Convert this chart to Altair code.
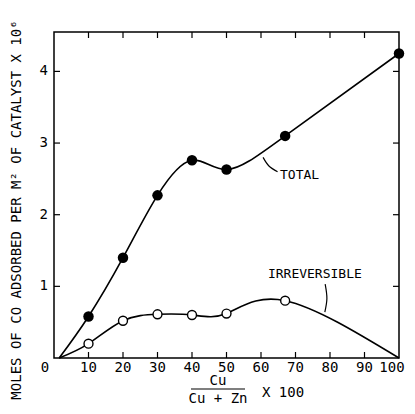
import altair as alt
import pandas as pd

# Data
total_x = [1.5, 10, 20, 30, 40, 50, 67, 100]
total_y = [0.0, 0.58, 1.40, 2.27, 2.76, 2.63, 3.10, 4.25]
total_marker = [False, True, True, True, True, True, True, True]

irr_x = [1.5, 10, 20, 30, 40, 50, 67, 100]
irr_y = [0.0, 0.20, 0.52, 0.61, 0.60, 0.62, 0.80, 0.0]
irr_marker = [False, True, True, True, True, True, True, False]

x_ticks = [0, 10, 20, 30, 40, 50, 60, 70, 80, 90, 100]
y_ticks = [1, 2, 3, 4]

FONT = "DejaVu Sans Mono"
W, H = 345, 326
XMAX, YMAX = 100, 4.55

tot = pd.DataFrame({"x": total_x, "y": total_y, "m": total_marker})
irr = pd.DataFrame({"x": irr_x, "y": irr_y, "m": irr_marker})

xs = alt.Scale(domain=[0, XMAX], nice=False)
ys = alt.Scale(domain=[0, YMAX], nice=False)

X = lambda f="x": alt.X(f"{f}:Q", scale=xs, axis=None)
Y = lambda f="y": alt.Y(f"{f}:Q", scale=ys, axis=None)

# tick labels drawn as text through the scales
xl = pd.DataFrame({"x": x_ticks[1:-1], "t": [str(v) for v in x_ticks[1:-1]]})
xlabels = alt.Chart(xl).mark_text(font=FONT, fontSize=14, color="black",
                                  align="center", baseline="top").encode(
    x=X(), y=alt.value(H + 3), text="t:N")
x0 = pd.DataFrame({"x": [x_ticks[0]], "t": [str(x_ticks[0])]})
xlabel0 = alt.Chart(x0).mark_text(font=FONT, fontSize=14, color="black",
                                  align="center", baseline="top", dx=-9).encode(
    x=X(), y=alt.value(H + 3), text="t:N")
xN = pd.DataFrame({"x": [x_ticks[-1]], "t": [str(x_ticks[-1])]})
xlabelN = alt.Chart(xN).mark_text(font=FONT, fontSize=14, color="black",
                                  align="center", baseline="top", dx=-7).encode(
    x=X(), y=alt.value(H + 3), text="t:N")
yl = pd.DataFrame({"y": y_ticks, "t": [str(v) for v in y_ticks]})
ylabels = alt.Chart(yl).mark_text(font=FONT, fontSize=14, color="black",
                                  align="right", baseline="middle").encode(
    y=Y(), x=alt.value(-6), text="t:N")

ytitle = alt.Chart(pd.DataFrame({"t": ["MOLES OF CO ADSORBED PER M² OF CATALYST X 10⁶"]})).mark_text(
    font=FONT, fontSize=14, color="black", angle=270, align="center", baseline="middle"
).encode(x=alt.value(-37), y=alt.value(178), text="t:N")

# frame
frame = alt.Chart(pd.DataFrame({"a": [0]})).mark_rect(
    fill=None, stroke="black", strokeWidth=1.5
).encode(x=alt.value(0), x2=alt.value(W), y=alt.value(0), y2=alt.value(H))

# inward ticks
xt = pd.DataFrame({"x": x_ticks[1:-1]})
bottom_ticks = alt.Chart(xt).mark_rule(color="black", strokeWidth=1.2).encode(
    x=X(), y=alt.value(H), y2=alt.value(H - 6))
top_ticks = alt.Chart(xt).mark_rule(color="black", strokeWidth=1.2).encode(
    x=X(), y=alt.value(0), y2=alt.value(6))
yt = pd.DataFrame({"y": y_ticks})
left_ticks = alt.Chart(yt).mark_rule(color="black", strokeWidth=1.2).encode(
    y=Y(), x=alt.value(0), x2=alt.value(6))
right_ticks = alt.Chart(yt).mark_rule(color="black", strokeWidth=1.2).encode(
    y=Y(), x=alt.value(W), x2=alt.value(W - 6))

tot_line = alt.Chart(tot).mark_line(color="black", strokeWidth=1.6, interpolate="natural").encode(
    x=X(), y=Y())
irr_line = alt.Chart(irr).mark_line(color="black", strokeWidth=1.6, interpolate="natural").encode(
    x=X(), y=Y())

tot_pts = alt.Chart(tot[tot.m]).mark_point(
    shape="circle", filled=True, color="black", size=110, opacity=1).encode(x=X(), y=Y())
irr_pts = alt.Chart(irr[irr.m]).mark_point(
    shape="circle", filled=True, fill="white", stroke="black", strokeWidth=1.4,
    size=80, opacity=1).encode(x=X(), y=Y())

# labels
lab = pd.DataFrame({"x": [65.5, 62.0], "y": [2.56, 1.17], "t": ["TOTAL", "IRREVERSIBLE"]})
labels = alt.Chart(lab).mark_text(font=FONT, fontSize=13, align="left", baseline="middle",
                                  color="black").encode(x=X(), y=Y(), text="t:N")

lead_line = alt.Chart(pd.DataFrame({"x": [60.6, 62.3, 64.8], "y": [2.80, 2.68, 2.60],
                                    "o": [0, 1, 2]})).mark_line(
    color="black", strokeWidth=1.2, interpolate="natural").encode(
    x=X(), y=Y(), order="o:Q")
lead_line2 = alt.Chart(pd.DataFrame({"x": [78.6, 79.1, 78.5], "y": [1.03, 0.83, 0.64],
                                     "o": [0, 1, 2]})).mark_line(
    color="black", strokeWidth=1.2, interpolate="natural").encode(
    x=X(), y=Y(), order="o:Q")

# x-axis title as fraction
frac = alt.Chart(pd.DataFrame({"t": ["Cu"]})).mark_text(
    font=FONT, fontSize=14, color="black", align="center", baseline="bottom").encode(
    x=alt.value(164), y=alt.value(H + 30), text="t:N")
frac2 = alt.Chart(pd.DataFrame({"t": ["Cu + Zn"]})).mark_text(
    font=FONT, fontSize=14, color="black", align="center", baseline="top").encode(
    x=alt.value(164), y=alt.value(H + 34), text="t:N")
fracbar = alt.Chart(pd.DataFrame({"a": [0]})).mark_rule(color="black", strokeWidth=1.2).encode(
    x=alt.value(137), x2=alt.value(191), y=alt.value(H + 31))
frac3 = alt.Chart(pd.DataFrame({"t": ["X  100"]})).mark_text(
    font=FONT, fontSize=14, color="black", align="left", baseline="middle").encode(
    x=alt.value(208), y=alt.value(H + 35), text="t:N")

chart = alt.layer(
    frame, bottom_ticks, top_ticks, left_ticks, right_ticks,
    tot_line, irr_line, tot_pts, irr_pts, labels, lead_line, lead_line2,
    xlabels, xlabel0, xlabelN, ylabels, frac, frac2, fracbar, frac3, ytitle,
).properties(
    width=W, height=H,
    autosize=alt.AutoSizeParams(type="none"),
    padding={"left": 46, "top": 24, "right": 8, "bottom": 50},
).configure_view(stroke=None)

chart.save("out.html", embed_options={"renderer": "svg", "actions": False})
